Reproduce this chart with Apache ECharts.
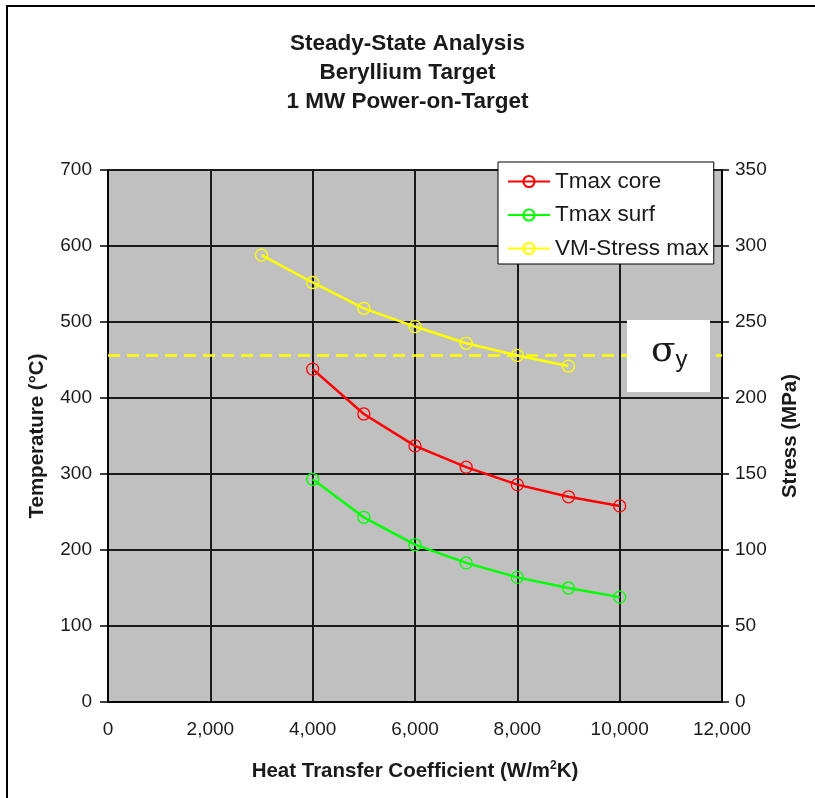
<!DOCTYPE html>
<html>
<head>
<meta charset="utf-8">
<script src="https://cdn.jsdelivr.net/npm/echarts@6/dist/echarts.min.js"></script>
<style>
html,body{margin:0;padding:0;background:#fff;}
#c{width:815px;height:798px;}
</style>
</head>
<body>
<div id="c"></div>
<script>
// Data
var xValuesTmax = [4000, 5000, 6000, 7000, 8000, 9000, 10000];
var tmaxCore = [438, 379, 337, 309, 286, 270, 258];
var tmaxSurf = [293, 243, 207, 183, 164, 150, 138];
var xValuesStress = [3000, 4000, 5000, 6000, 7000, 8000, 9000];
var vmStressMax = [294, 276, 259, 247, 236, 228, 221];
var yieldStress = 228;
var titleLines = ['Steady-State Analysis', 'Beryllium Target', '1 MW Power-on-Target'];
var seriesNames = ['Tmax core', 'Tmax surf', 'VM-Stress max'];
var seriesColors = ['#ff0000', '#00ff00', '#ffff00'];

function pairs(xs, ys) { return xs.map(function (x, i) { return [x, ys[i]]; }); }

var FONT = '"Liberation Sans", Arial, sans-serif';
var chart = echarts.init(document.getElementById('c'));

function lineSeries(i, xs, ys, axisIdx) {
  return {
    type: 'line',
    name: seriesNames[i],
    yAxisIndex: axisIdx,
    data: pairs(xs, ys),
    symbol: 'circle',
    symbolSize: 12,
    z: 5,
    itemStyle: { color: 'rgba(0,0,0,0)', borderColor: seriesColors[i], borderWidth: 1.3 },
    lineStyle: { width: 2.5, color: seriesColors[i] }
  };
}

var stressSeries = lineSeries(2, xValuesStress, vmStressMax, 1);
stressSeries.markLine = {
  silent: true, symbol: 'none', label: { show: false },
  lineStyle: { color: '#ffff00', type: [12, 7], width: 2.5 },
  data: [{ yAxis: yieldStress }]
};

chart.setOption({
  backgroundColor: '#fff',
  animation: false,
  title: {
    text: titleLines.join('\n'),
    left: 'center',
    top: 24,
    textStyle: { fontFamily: FONT, fontSize: 22.5, fontWeight: 'bold', color: '#1a1a1a', lineHeight: 29 }
  },
  legend: {
    data: seriesNames,
    orient: 'vertical',
    left: 498,
    top: 162,
    padding: [8, 5, 4, 9],
    itemGap: 10.5,
    itemWidth: 42,
    itemHeight: 14,
    backgroundColor: '#fff',
    borderColor: '#000',
    borderWidth: 1,
    textStyle: { fontFamily: FONT, fontSize: 22.5, color: '#1a1a1a' },
    z: 20
  },
  grid: { left: 108, right: 93, top: 170, bottom: 96, show: true, backgroundColor: '#c0c0c0', borderWidth: 0 },
  xAxis: {
    type: 'value', min: 0, max: 12000, interval: 2000,
    name: 'Heat Transfer Coefficient (W/m{sup|2}K)',
    nameLocation: 'middle', nameGap: 58,
    nameTextStyle: { fontFamily: FONT, fontSize: 20.5, fontWeight: 'bold', color: '#1a1a1a',
      rich: { sup: { fontFamily: FONT, fontSize: 12, fontWeight: 'bold', color: '#1a1a1a', verticalAlign: 'top', padding: [0, 0, 10, 0] } } },
    axisLine: { show: true, lineStyle: { color: '#000', width: 1.5 } },
    axisTick: { show: false },
    axisLabel: { fontFamily: FONT, fontSize: 19, color: '#1a1a1a', margin: 18,
      formatter: function (v) { return v.toLocaleString('en-US'); } },
    splitLine: { show: true, lineStyle: { color: '#1a1a1a', width: 2 } }
  },
  yAxis: [{
    type: 'value', min: 0, max: 700, interval: 100,
    name: 'Temperature (°C)', nameLocation: 'middle', nameGap: 60,
    nameTextStyle: { fontFamily: FONT, fontSize: 20.5, fontWeight: 'bold', color: '#1a1a1a' },
    axisLine: { show: true, lineStyle: { color: '#000', width: 1.5 } },
    axisTick: { show: true, length: 8, lineStyle: { color: '#000', width: 1.5 } },
    axisLabel: { fontFamily: FONT, fontSize: 19, color: '#1a1a1a', margin: 16 },
    splitLine: { show: true, lineStyle: { color: '#1a1a1a', width: 2 } }
  }, {
    type: 'value', min: 0, max: 350, interval: 50,
    position: 'right',
    name: 'Stress (MPa)', nameLocation: 'middle', nameGap: 58,
    nameTextStyle: { fontFamily: FONT, fontSize: 20.5, fontWeight: 'bold', color: '#1a1a1a' },
    axisLine: { show: true, lineStyle: { color: '#000', width: 1.5 } },
    axisTick: { show: true, length: 7, lineStyle: { color: '#000', width: 1.5 } },
    axisLabel: { fontFamily: FONT, fontSize: 19, color: '#1a1a1a', margin: 13 },
    splitLine: { show: false }
  }],
  series: [
    lineSeries(0, xValuesTmax, tmaxCore, 0),
    lineSeries(1, xValuesTmax, tmaxSurf, 0),
    stressSeries
  ],
  graphic: [
    { type: 'rect', z: 100, shape: { x: 627, y: 320, width: 83, height: 72 }, style: { fill: '#fff' } },
    { type: 'text', z: 101, left: 651, top: 334,
      style: { text: '{s|σ}{b|y}', rich: {
        s: { fontFamily: '"DejaVu Serif", serif', fontSize: 36, fill: '#1a1a1a' },
        b: { fontFamily: FONT, fontSize: 24, fill: '#1a1a1a', padding: [16, 0, 0, 0] } } } },
    { type: 'line', z: 100, shape: { x1: 6, y1: 6, x2: 815, y2: 6 }, style: { stroke: '#000', lineWidth: 2 } },
    { type: 'line', z: 100, shape: { x1: 7, y1: 6, x2: 7, y2: 798 }, style: { stroke: '#000', lineWidth: 2 } }
  ]
});
</script>
</body>
</html>
